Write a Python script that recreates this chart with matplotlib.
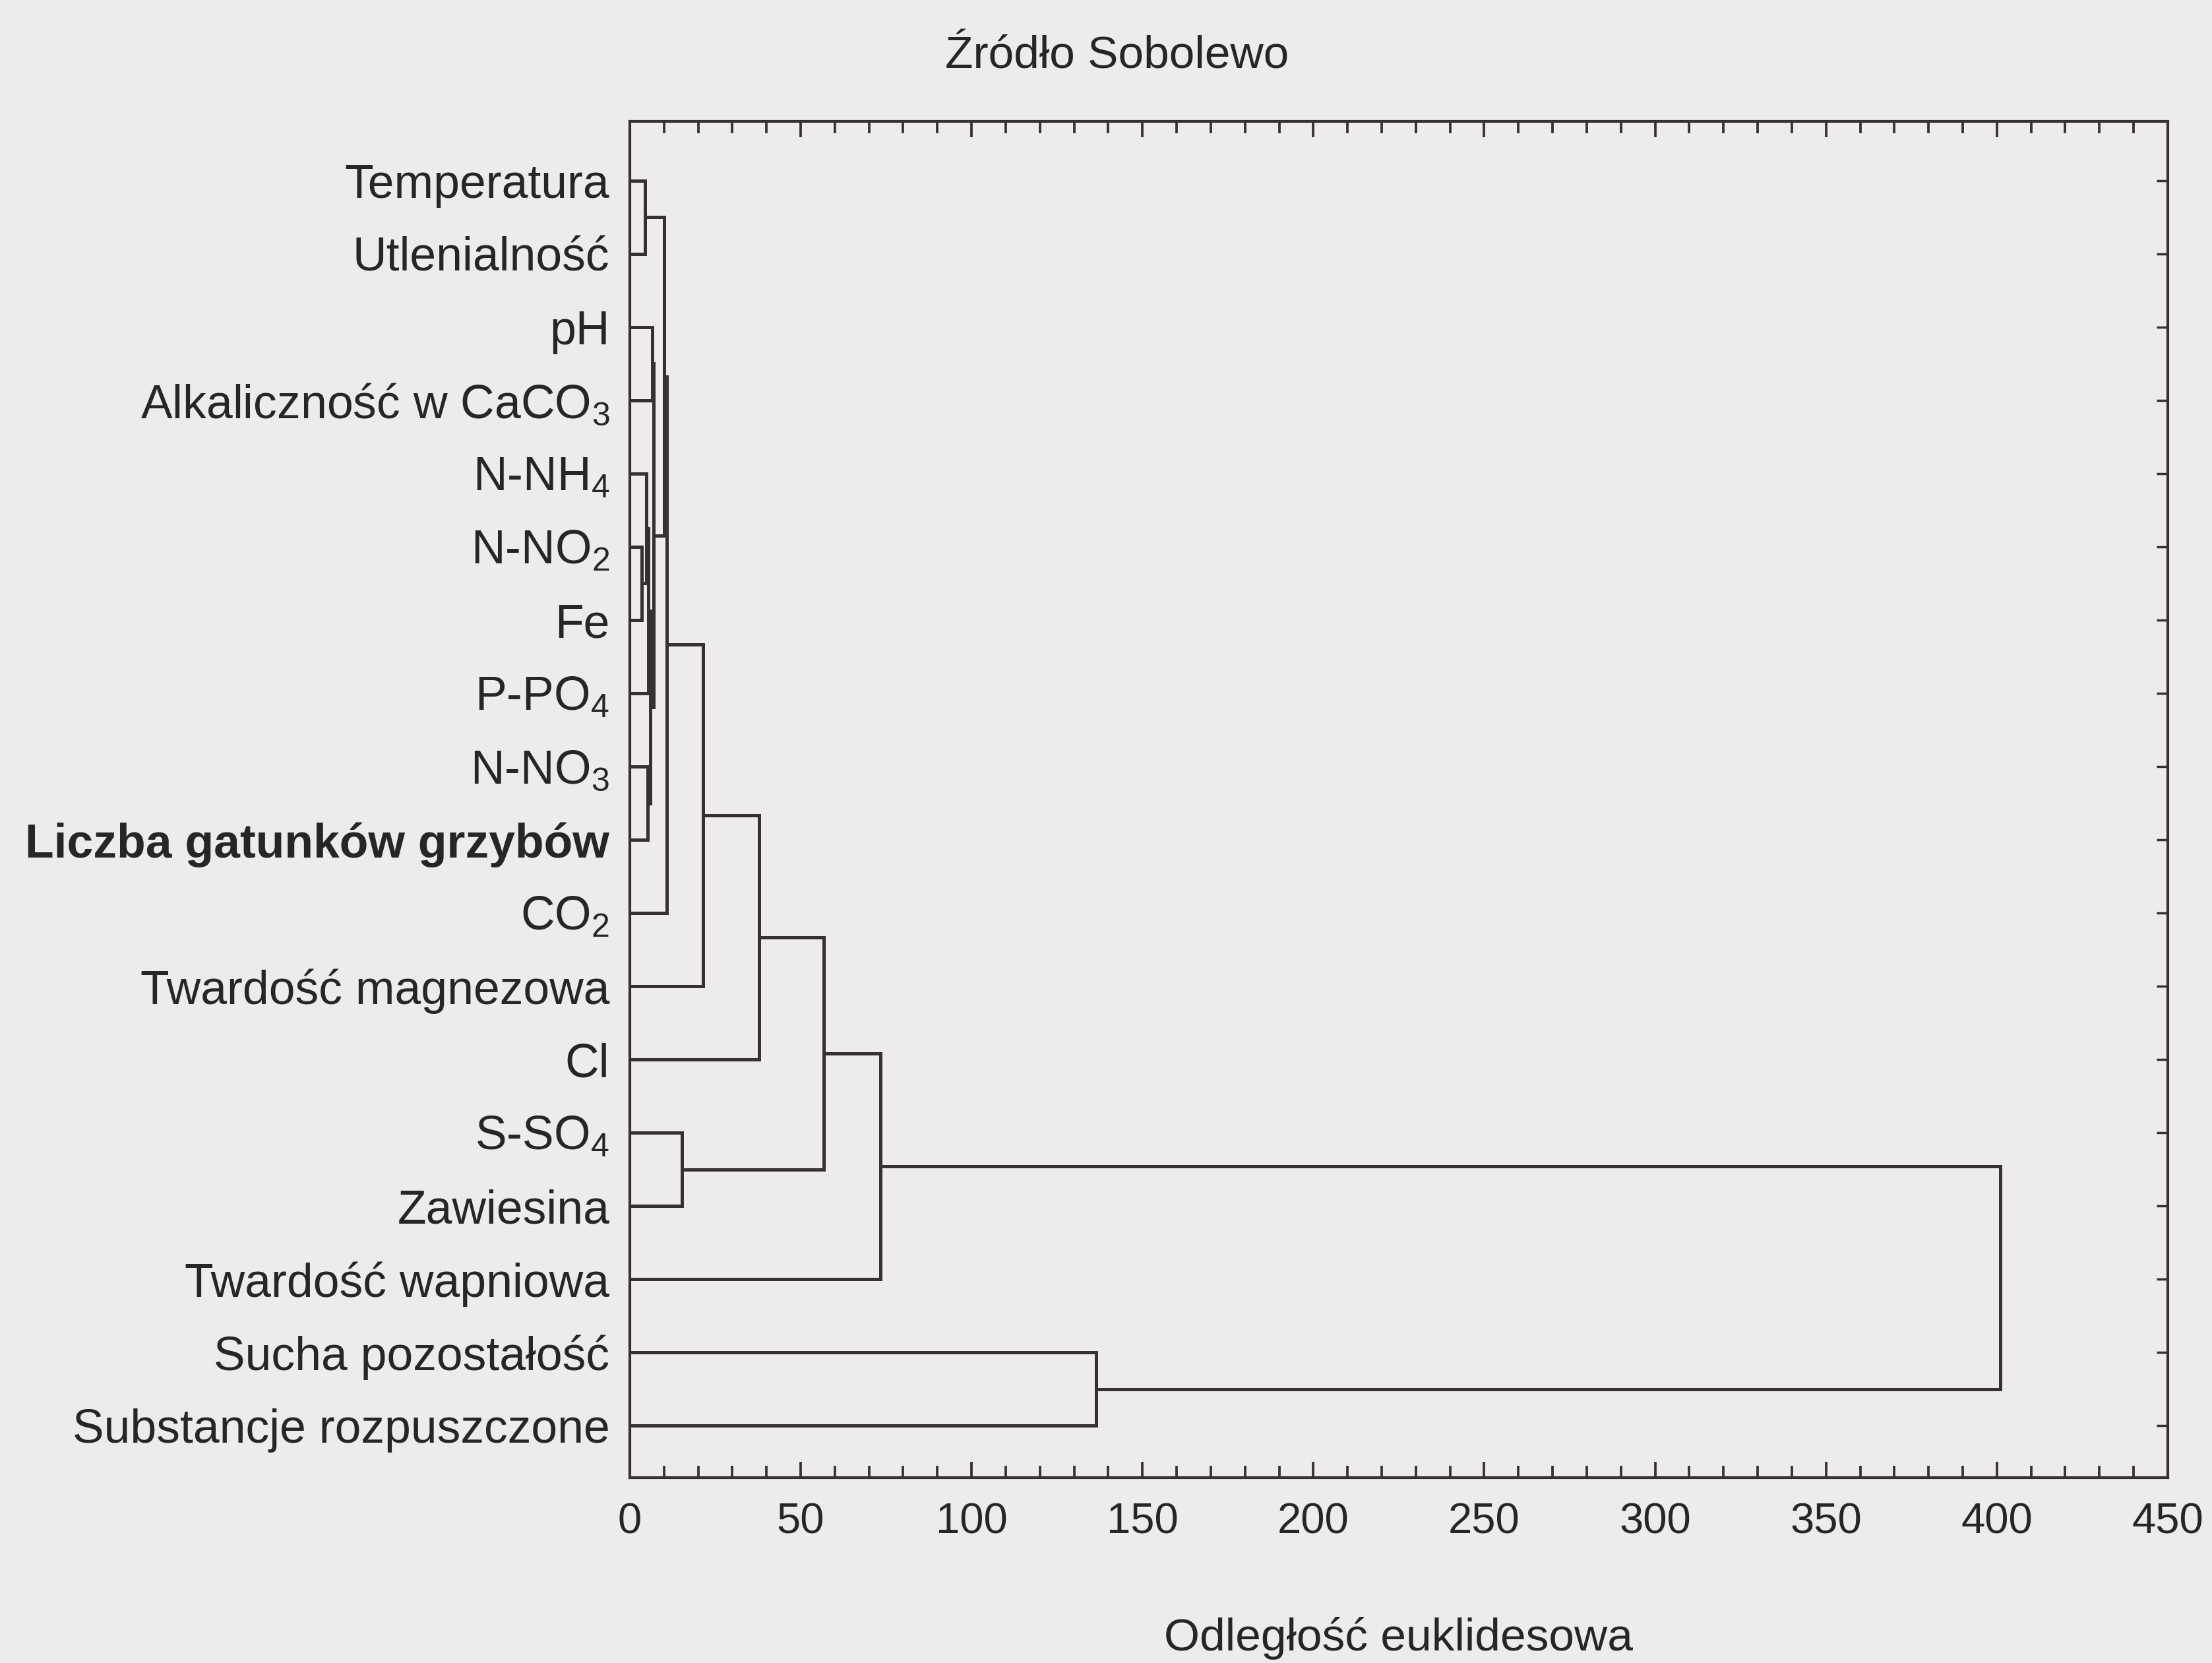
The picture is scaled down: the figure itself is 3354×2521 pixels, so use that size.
import matplotlib
matplotlib.use("Agg")
import matplotlib.pyplot as plt
from matplotlib.ticker import MultipleLocator

plt.rcParams['font.family'] = ['Liberation Sans', 'DejaVu Sans']
plt.rcParams['mathtext.fontset'] = 'custom'
plt.rcParams['mathtext.rm'] = 'Liberation Sans'
plt.rcParams['mathtext.it'] = 'Liberation Sans:italic'
plt.rcParams['mathtext.bf'] = 'Liberation Sans:bold'

# ---- data ----
title = "Źródło Sobolewo"
xlabel = "Odległość euklidesowa"
leaf_labels = [
    "Temperatura",
    "Utlenialność",
    "pH",
    "Alkaliczność w CaCO$_3$",
    "N-NH$_4$",
    "N-NO$_2$",
    "Fe",
    "P-PO$_4$",
    "N-NO$_3$",
    "Liczba gatunków grzybów",
    "CO$_2$",
    "Twardość magnezowa",
    "Cl",
    "S-SO$_4$",
    "Zawiesina",
    "Twardość wapniowa",
    "Sucha pozostałość",
    "Substancje rozpuszczone",
]
bold_label = "Liczba gatunków grzybów"

# linkage (scipy-like): indices < n are leaves, n+k is the k-th merge
merge_left = [5, 0, 4, 20, 8, 21, 2, 24, 19, 26, 13, 27, 29, 30, 31, 16, 32]
merge_right = [6, 1, 18, 7, 9, 22, 3, 23, 25, 10, 14, 11, 12, 28, 15, 17, 33]
merge_height = [3.5, 4.4, 4.8, 5.4, 5.3, 6.0, 6.6, 6.9, 10.0, 10.8,
                15.2, 21.4, 37.8, 56.8, 73.4, 136.4, 401.0]

x_ticks = [0, 50, 100, 150, 200, 250, 300, 350, 400, 450]

# ---- figure ----
bg = '#edecea'
ink = '#353031'
txt = '#262626'

fig = plt.figure(figsize=(33.54, 25.21), dpi=100, facecolor=bg)
# axes box: x 955..3287 px, y 184..2240 px
ax = fig.add_axes([0.2847, 0.1115, 0.6953, 0.8155], facecolor=bg)

n = len(leaf_labels)
pos = {i: (float(i), 0.0) for i in range(n)}
for k, (a, b, h) in enumerate(zip(merge_left, merge_right, merge_height)):
    ya, ha = pos[a]
    yb, hb = pos[b]
    ax.plot([ha, h, h, hb], [ya, ya, yb, yb], color=ink, lw=3.6,
            solid_joinstyle='miter', solid_capstyle='butt', zorder=3)
    pos[n + k] = ((ya + yb) / 2.0, h)

ax.set_xlim(0, 450)
ax.set_ylim(n - 0.29, -0.81)

ax.xaxis.set_major_locator(MultipleLocator(50))
ax.xaxis.set_minor_locator(MultipleLocator(10))
ax.set_xticks(x_ticks)
ax.set_xticklabels([str(v) for v in x_ticks])
ax.set_yticks(range(n))
ax.set_yticklabels(leaf_labels)
for lab in ax.get_yticklabels():
    if lab.get_text() == bold_label:
        lab.set_fontweight('bold')
        lab.set_fontsize(52.5)

ax.tick_params(axis='x', which='major', direction='in', top=True, bottom=True,
               length=17, width=2.7, color=ink, labelsize=47, labelcolor=txt, pad=27)
ax.tick_params(axis='x', which='minor', direction='in', top=True, bottom=True,
               length=13, width=2.7, color=ink)
ax.tick_params(axis='y', which='major', direction='in', left=False, right=True,
               length=12, width=2.5, color=ink, labelsize=51.5, labelcolor=txt, pad=22)

for s in ax.spines.values():
    s.set_linewidth(3.0)
    s.set_color(ink)

ax.set_xlabel(xlabel, fontsize=50, color=txt, labelpad=82)
fig.text(0.505, 0.966, title, ha='center', va='center', fontsize=50, color=txt)

fig.savefig('out.png', dpi=100, facecolor=bg)
